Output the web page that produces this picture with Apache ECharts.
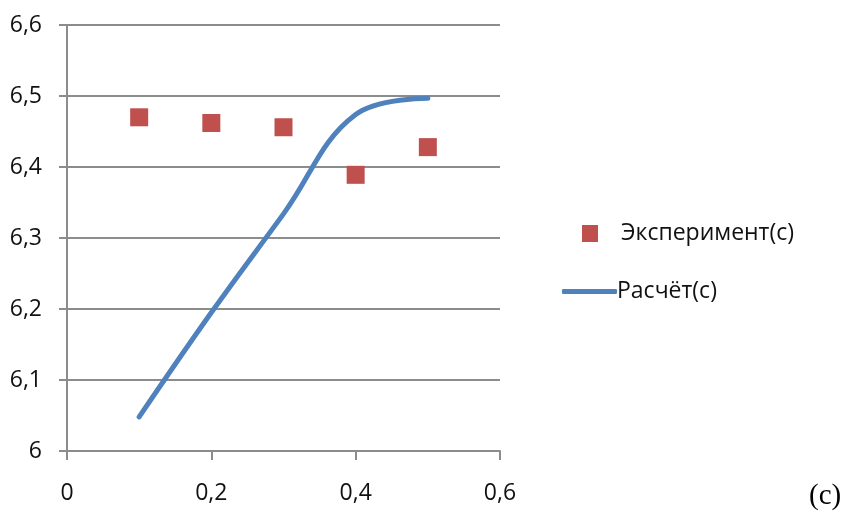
<!DOCTYPE html>
<html><head><meta charset="utf-8">
<script src="https://cdn.jsdelivr.net/npm/echarts@6/dist/echarts.min.js"></script>
<style>html,body{margin:0;padding:0;background:#fff}#c{width:853px;height:521px}</style>
</head><body><div id="c"></div>
<script>
const xValues = [0.1, 0.2, 0.3, 0.4, 0.5];
const experiment = [6.470, 6.462, 6.456, 6.389, 6.428];
const calculation = [6.048, 6.195, 6.334, 6.474, 6.497];
const seriesNames = ['Эксперимент(с)', 'Расчёт(с)'];
const panelLabel = '(c)';

const fmt = v => String(Number(v.toFixed(1))).replace('.', ',');
const chart = echarts.init(document.getElementById('c'));
chart.setOption({
  animation: false,
  textStyle: { fontFamily: 'Open Sans' },
  grid: { left: 67, right: 353, top: 25, bottom: 70, containLabel: false },
  xAxis: {
    type: 'value', min: 0, max: 0.6, interval: 0.2,
    axisLine: { show: true, onZero: false, lineStyle: { color: '#8c8c8c', width: 2 } },
    axisTick: { show: true, length: 9, lineStyle: { color: '#8c8c8c', width: 2 } },
    splitLine: { show: false },
    axisLabel: { formatter: fmt, color: '#111', fontSize: 23, margin: 31 }
  },
  yAxis: {
    type: 'value', min: 6, max: 6.6, interval: 0.1,
    axisLine: { show: true, lineStyle: { color: '#8c8c8c', width: 2 } },
    axisTick: { show: true, length: 8, lineStyle: { color: '#8c8c8c', width: 2 } },
    splitLine: { show: true, lineStyle: { color: '#8c8c8c', width: 2 } },
    axisLabel: { formatter: fmt, color: '#111', fontSize: 23, margin: 25 }
  },
  legend: [
    { data: [{ name: seriesNames[0], icon: 'rect' }], left: 577, top: 217, itemWidth: 16, itemHeight: 17,
      textStyle: { fontSize: 23, color: '#111', padding: [0, 0, 0, 18], fontFamily: 'Open Sans' } },
    { data: [{ name: seriesNames[1], icon: 'roundRect' }], left: 557, top: 275, itemWidth: 55, itemHeight: 5,
      textStyle: { fontSize: 23, color: '#111', padding: [0, 0, 0, -5], fontFamily: 'Open Sans' } }
  ],
  series: [
    { name: seriesNames[0], type: 'scatter', symbol: 'rect', symbolSize: 18,
      itemStyle: { color: '#C0504D', opacity: 1 }, data: xValues.map((x, i) => [x, experiment[i]]), z: 3 },
    { name: seriesNames[1], type: 'line', smooth: 0.4, showSymbol: false, symbol: 'none',
      lineStyle: { color: '#4F81BD', width: 5, cap: 'round' }, itemStyle: { color: '#4F81BD' },
      data: xValues.map((x, i) => [x, calculation[i]]), z: 4 }
  ],
  graphic: [
    { type: 'text', left: 809, top: 482, style: { text: panelLabel, font: '29px "Liberation Serif"', fill: '#000' } }
  ]
});
</script></body></html>
